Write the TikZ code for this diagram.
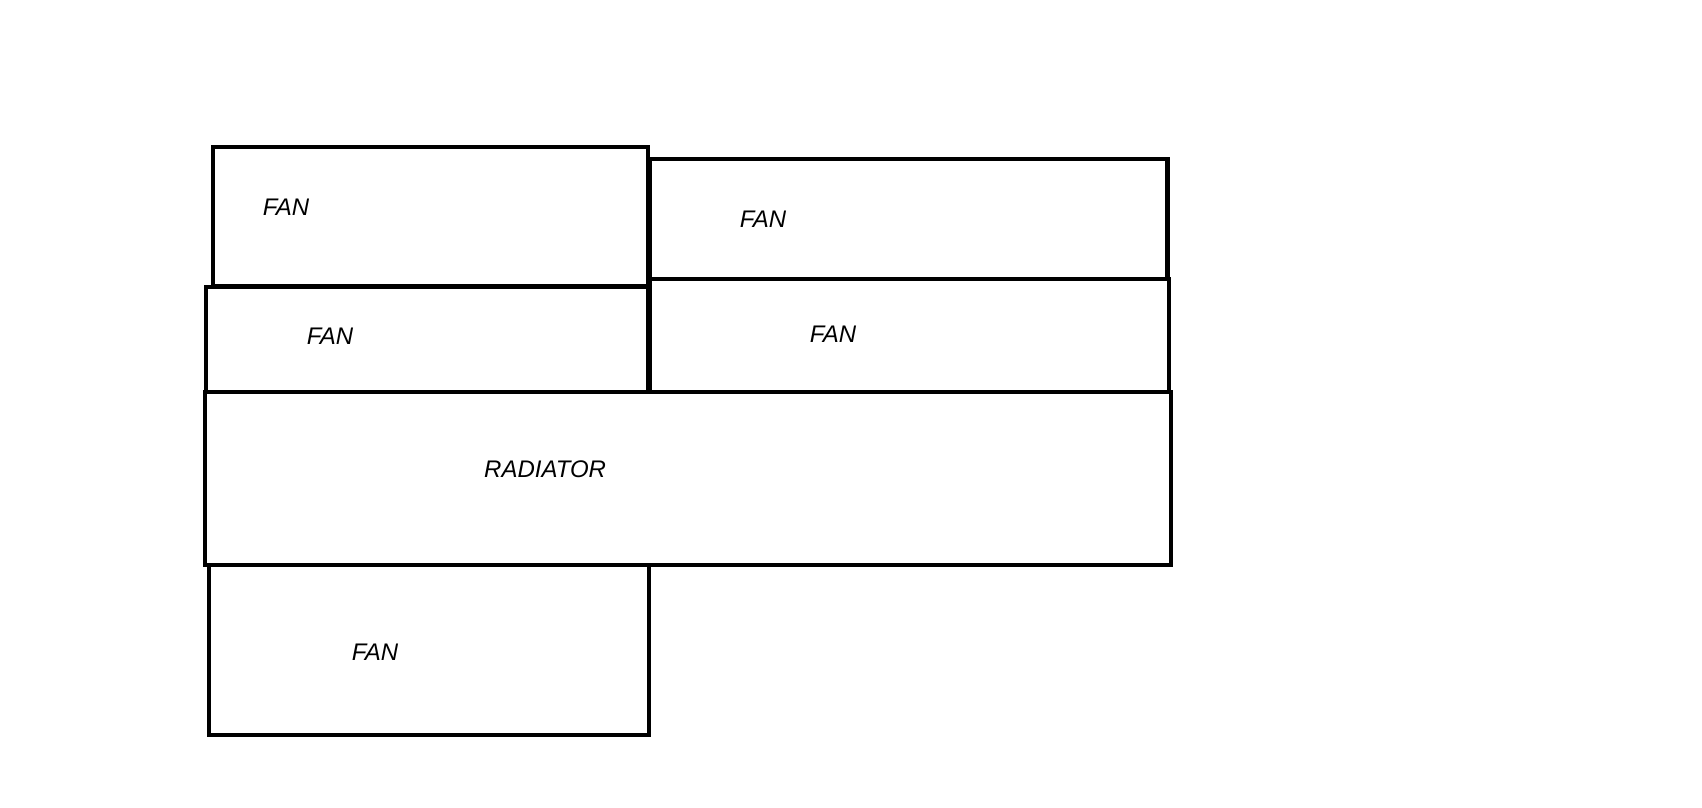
\documentclass[tikz,border=0pt]{standalone}
\usepackage{fontspec}
\setmainfont{Liberation Sans}
\begin{document}
\begin{tikzpicture}[x=1pt,y=-1pt,
  part/.style={draw=black,line width=4.3pt,line join=miter},
  lbl/.style={anchor=west,inner sep=0pt,font=\fontsize{24}{28}\selectfont\itshape}]
\useasboundingbox (0,0) rectangle (1702,808);
\fill[white] (0,0) rectangle (1702,808);
% boxes
\draw[part] (212.7,146.7) rectangle (647.7,286);
\draw[part] (649.5,159.3) rectangle (1167.5,279.3);
\draw[part] (206,286.7) rectangle (648,392.3);
\draw[part] (650,279.3) rectangle (1168.7,391.7);
\draw[part] (205,392.3) rectangle (1171,565);
\draw[part] (209,565) rectangle (649.3,735);
% labels
\node[lbl] (fanA) at (262.7,207.7) {FAN};
\node[lbl] (fanC) at (739.7,219) {FAN};
\node[lbl] (fanB) at (306.7,336.7) {FAN};
\node[lbl] (fanD) at (809.7,334.3) {FAN};
\node[lbl] (rad) at (484,469) {RADIATOR};
\node[lbl] (fanE) at (351.7,652.3) {FAN};
\end{tikzpicture}
\end{document}
